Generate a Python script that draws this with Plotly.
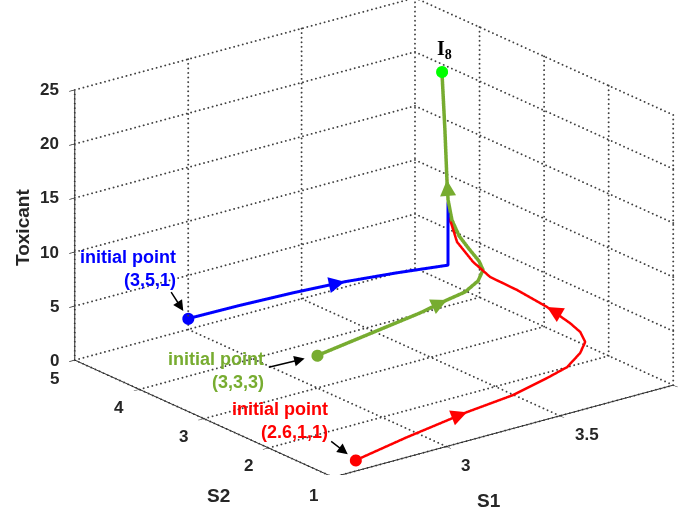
import numpy as np
import plotly.graph_objects as go

# ---- axis ticks ----
s1_ticks = [2.5, 3, 3.5, 4]
s1_ticktext = ["", "3", "3.5", ""]
s2_ticks = [1, 2, 3, 4, 5]
tox_ticks = [0, 5, 10, 15, 20, 25]

# ---- equilibrium I8 ----
i8_s1, i8_s2, i8_t = 3.637, 3.307, 24.8

# ---- trajectories (S1, S2, Toxicant) ----
# red and blue merge into the green one on the vertical branch towards I8
red_s1 = [2.6, 2.869, 3.176, 3.408, 3.586, 3.703, 3.803, 3.868, 3.903, 3.915,
          3.899, 3.838, 3.776, 3.744, 3.693, 3.671, 3.664, 3.659]
red_s2 = [1.0, 1.15, 1.30, 1.40, 1.50, 1.60, 1.75, 1.90, 2.10, 2.30,
          2.60, 2.85, 3.05, 3.20, 3.27, 3.30, 3.307, 3.307]
red_t = [1.0, 1.20, 1.37, 1.36, 1.65, 1.73, 2.05, 2.30, 2.49, 2.70,
         3.47, 4.71, 5.73, 6.89, 8.84, 10.92, 12.52, 14.67]

green_s1 = [3.0, 3.25, 3.501, 3.626, 3.711, 3.774, 3.802, 3.787, 3.746, 3.705,
            3.676, 3.662, 3.659, 3.650, 3.637]
green_s2 = [3.0, 3.085, 3.17, 3.19, 3.21, 3.23, 3.25, 3.26, 3.27, 3.28,
            3.29, 3.30, 3.307, 3.307, 3.307]
green_t = [3.0, 3.315, 3.63, 4.07, 4.27, 4.88, 5.69, 6.57, 7.89, 9.30,
           10.92, 12.83, 14.67, 19.35, 24.8]

blue_s1 = [3.0, 3.13, 3.27, 3.40, 3.53, 3.664, 3.664, 3.659]
blue_s2 = [5.0, 4.66, 4.32, 3.98, 3.64, 3.307, 3.307, 3.307]
blue_t = [1.0, 2.4, 3.7, 4.9, 5.9, 6.76, 12.52, 14.67]

RED = "#ff0000"
BLUE = "#0000ff"
GREEN = "#77ac30"
INK = "#262626"
FONT = "Liberation Sans"

s1_lo, s1_hi = s1_ticks[0], s1_ticks[-1]
s2_lo, s2_hi = s2_ticks[0], s2_ticks[-1]
t_lo, t_hi = tox_ticks[0], tox_ticks[-1]

fig = go.Figure()

# ---- dotted grid on the floor and the two back walls (drawn as fine dots) ----
gx, gy, gz = [], [], []


def dots(p, q, n):
    for f in np.linspace(0.0, 1.0, n):
        gx.append(p[0] + (q[0] - p[0]) * f)
        gy.append(p[1] + (q[1] - p[1]) * f)
        gz.append(p[2] + (q[2] - p[2]) * f)


N_S1, N_S2, N_T = 80, 64, 60
for s1 in s1_ticks:
    dots((s1, s2_lo, t_lo), (s1, s2_hi, t_lo), N_S2)      # floor
    dots((s1, s2_hi, t_lo), (s1, s2_hi, t_hi), N_T)       # back wall S2 = max
for s2 in s2_ticks:
    dots((s1_lo, s2, t_lo), (s1_hi, s2, t_lo), N_S1)      # floor
    dots((s1_hi, s2, t_lo), (s1_hi, s2, t_hi), N_T)       # side wall S1 = max
for t in tox_ticks:
    dots((s1_lo, s2_hi, t), (s1_hi, s2_hi, t), N_S1)
    dots((s1_hi, s2_lo, t), (s1_hi, s2_hi, t), N_S2)

fig.add_trace(go.Scatter3d(x=gx, y=gy, z=gz, mode="markers",
                           marker=dict(size=1.1, color="#404040", line=dict(width=0)),
                           hoverinfo="skip"))

fig.add_trace(go.Scatter3d(x=red_s1, y=red_s2, z=red_t, mode="lines",
                           line=dict(color=RED, width=5), hoverinfo="skip"))
fig.add_trace(go.Scatter3d(x=blue_s1, y=blue_s2, z=blue_t, mode="lines",
                           line=dict(color=BLUE, width=6), hoverinfo="skip"))
fig.add_trace(go.Scatter3d(x=green_s1, y=green_s2, z=green_t, mode="lines",
                           line=dict(color=GREEN, width=7), hoverinfo="skip"))

# starting points
fig.add_trace(go.Scatter3d(
    x=[red_s1[0], blue_s1[0], green_s1[0]],
    y=[red_s2[0], blue_s2[0], green_s2[0]],
    z=[red_t[0], blue_t[0], green_t[0]],
    mode="markers", marker=dict(size=7, color=[RED, BLUE, GREEN], line=dict(width=0)),
    hoverinfo="skip"))
# equilibrium point
fig.add_trace(go.Scatter3d(x=[i8_s1], y=[i8_s2], z=[i8_t], mode="markers",
                           marker=dict(size=7, color="#00ff00", line=dict(width=0)),
                           hoverinfo="skip"))

annotations = []


def flow_arrow(xs, ys, zs, i, color, ax, ay):
    """Arrowhead sitting on a trajectory, pointing along the flow."""
    annotations.append(dict(x=xs[i], y=ys[i], z=zs[i], text="", showarrow=True,
                            arrowhead=2, arrowsize=1.6, arrowwidth=2,
                            arrowcolor=color, ax=ax, ay=ay, standoff=0))


flow_arrow(blue_s1, blue_s2, blue_t, 3, BLUE, -14, 3)
flow_arrow(red_s1, red_s2, red_t, 2, RED, -13, 5)
flow_arrow(red_s1, red_s2, red_t, 10, RED, 12, 7)
flow_arrow(green_s1, green_s2, green_t, 3, GREEN, -13, 6)
flow_arrow(green_s1, green_s2, green_t, 12, GREEN, 1, 14)


def start_label(x, y, z, color, text, xshift, yshift, ax, ay, standoff):
    annotations.append(dict(x=x, y=y, z=z, text=text, showarrow=False,
                            xanchor="right", yanchor="middle", align="right",
                            xshift=xshift, yshift=yshift,
                            font=dict(family=FONT, size=18, color=color, weight="bold")))
    annotations.append(dict(x=x, y=y, z=z, text="", showarrow=True,
                            arrowhead=2, arrowsize=1.4, arrowwidth=1.5,
                            arrowcolor="black", ax=ax, ay=ay, standoff=standoff))


start_label(blue_s1[0], blue_s2[0], blue_t[0], BLUE, "initial point<br>(3,5,1)",
            -10, 50, -18, -28, 9)
start_label(green_s1[0], green_s2[0], green_t[0], GREEN, "initial point<br>(3,3,3)",
            -51, -15, -50, 12, 13)
start_label(red_s1[0], red_s2[0], red_t[0], RED, "initial point<br>(2.6,1,1)",
            -26, 40, -26, -20, 10)

annotations.append(dict(x=i8_s1, y=i8_s2, z=i8_t, text="<b>I<sub>8</sub></b>",
                        showarrow=False, xshift=3, yshift=22,
                        font=dict(family="Liberation Serif", size=20, color="black")))

# ---- upright tick labels next to each axis ----
tick_font = dict(family=FONT, size=17, color=INK, weight="bold")
for v, txt in zip(s1_ticks, s1_ticktext):
    if txt:
        annotations.append(dict(x=v, y=s2_lo, z=t_lo, text=txt, showarrow=False,
                                xanchor="left", yanchor="middle", xshift=13, yshift=-19,
                                font=tick_font))
for v in s2_ticks:
    annotations.append(dict(x=s1_lo, y=v, z=t_lo, text=str(v), showarrow=False,
                            xanchor="center", yanchor="middle", xshift=-20, yshift=-18,
                            font=tick_font))
for v in tox_ticks:
    annotations.append(dict(x=s1_lo, y=s2_hi, z=v, text=str(v), showarrow=False,
                            xanchor="right", yanchor="middle", xshift=-14, yshift=0,
                            font=tick_font))


def axis(tickvals, rng):
    return dict(title=dict(text=""), range=rng, tickvals=tickvals,
                showticklabels=False, showgrid=False,
                showline=True, linecolor=INK, linewidth=2,
                ticks="outside", ticklen=7, tickcolor=INK, tickwidth=1.5,
                zeroline=False, showbackground=False, showspikes=False,
                mirror=False)


ZOOM = 1.81
fig.update_layout(
    width=688, height=511,
    margin=dict(l=0, r=0, t=0, b=0),
    paper_bgcolor="white",
    showlegend=False,
    scene=dict(
        domain=dict(x=[0.0872, 1.0], y=[0.0704, 1.0]),
        xaxis=axis(s1_ticks, [s1_lo, s1_hi]),
        yaxis=axis(s2_ticks, [s2_lo, s2_hi]),
        zaxis=axis(tox_ticks, [t_lo, t_hi]),
        aspectmode="manual",
        aspectratio=dict(x=1.0 * ZOOM, y=0.9826 * ZOOM, z=0.6711 * ZOOM),
        camera=dict(eye=dict(x=-0.5726 * 2, y=-0.7412 * 2, z=0.3503 * 2),
                    up=dict(x=0, y=0, z=1), center=dict(x=0, y=0, z=0),
                    projection=dict(type="orthographic")),
        annotations=annotations,
    ),
)

# axis titles, placed in pixels of the 688x511 page
for text, px, py, angle in [("Toxicant", 22, 228, -90), ("S2", 218, 495, 0), ("S1", 489, 500, 0)]:
    fig.add_annotation(text=text, x=px / 688, y=1 - py / 511, xref="paper", yref="paper",
                       xanchor="center", yanchor="middle",
                       showarrow=False, textangle=angle,
                       font=dict(family=FONT, size=19, color=INK, weight="bold"))

fig.write_html("out.html")
